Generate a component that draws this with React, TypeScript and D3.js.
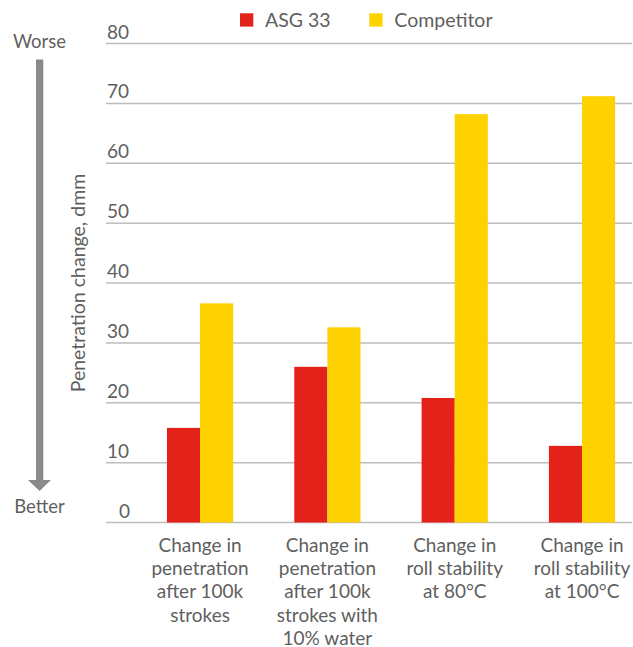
import React from "react";
import * as d3 from "d3";

const categories: string[][] = [
  ["Change in", "penetration", "after 100k", "strokes"],
  ["Change in", "penetration", "after 100k", "strokes with", "10% water"],
  ["Change in", "roll stability", "at 80°C"],
  ["Change in", "roll stability", "at 100°C"],
];
const seriesNames = ["ASG 33", "Competitor"];
const asg33 = [15.8, 26.0, 20.8, 12.8];
const competitor = [36.6, 32.6, 68.2, 71.2];
const yTicks = [0, 10, 20, 30, 40, 50, 60, 70, 80];
const colors = ["#E3221A", "#FDD200"];

const W = 633;
const H = 647;
const FONT = "Lato, 'Open Sans', sans-serif";
const TEXT = "#5f5f5f";

export default function App() {
  const y = d3.scaleLinear().domain([0, 80]).range([522.5, 43.5]);
  const x = d3
    .scaleBand<number>()
    .domain(d3.range(categories.length))
    .range([136.4, 645.7])
    .paddingInner(0)
    .paddingOuter(0);
  const step = x.step();
  const barW = step * 0.26;
  const series = [asg33, competitor];

  return (
    <svg
      width={W}
      height={H}
      style={{ position: "absolute", left: 0, top: 0, background: "#fff" }}
      fontFamily={FONT}
    >
      {/* gridlines */}
      {yTicks.map((t) => (
        <g key={t}>
          <line x1={106} x2={632} y1={y(t)} y2={y(t)} stroke="#bdbdbd" strokeWidth={1.5} />
          <text x={t === 0 ? 119 : 107} y={y(t) - 5} fontSize={19} fill={TEXT}>
            {t}
          </text>
        </g>
      ))}
      {/* bars */}
      {series.map((vals, si) =>
        vals.map((v, i) => {
          const cx = (x(i) as number) + step / 2;
          return (
            <rect
              key={`${si}-${i}`}
              x={cx - barW + si * barW}
              y={y(v)}
              width={barW}
              height={y(0) - y(v)}
              fill={colors[si]}
            />
          );
        })
      )}
      {/* x labels */}
      {categories.map((lines, i) => {
        const cx = (x(i) as number) + step / 2;
        return (
          <text key={i} textAnchor="middle" fontSize={19} fill={TEXT}>
            {lines.map((l, li) => (
              <tspan key={li} x={cx} y={551.5 + li * 23.4}>
                {l}
              </tspan>
            ))}
          </text>
        );
      })}
      {/* y axis title */}
      <text
        transform={`translate(85,283) rotate(-90)`}
        textAnchor="middle"
        fontSize={19.5}
        fill={TEXT}
      >
        Penetration change, dmm
      </text>
      {/* worse/better arrow */}
      <text x={39.5} y={48} textAnchor="middle" fontSize={18.5} fill={TEXT}>
        Worse
      </text>
      <rect x={36} y={59.5} width={7.3} height={421} fill="#8a8a8a" />
      <path d="M28,480 L51,480 L39.6,491 Z" fill="#8a8a8a" />
      <text x={39.5} y={513} textAnchor="middle" fontSize={18.5} fill={TEXT}>
        Better
      </text>
      {/* legend */}
      {seriesNames.map((n, i) => {
        const lx = i === 0 ? 240 : 369.3;
        return (
          <g key={n}>
            <rect x={lx} y={13.3} width={13.3} height={13.3} fill={colors[i]} />
            <text x={lx + 25} y={27} fontSize={19.5} fill={TEXT}>
              {n}
            </text>
          </g>
        );
      })}
    </svg>
  );
}
